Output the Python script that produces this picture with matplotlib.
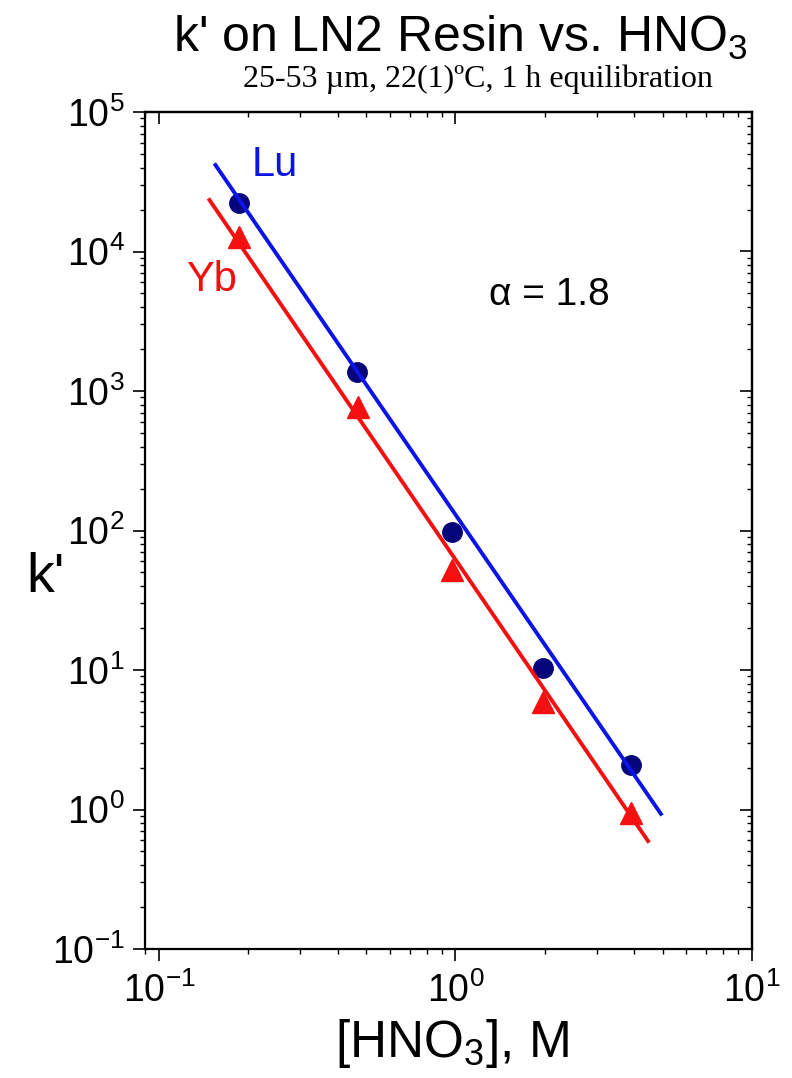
import numpy as np
import matplotlib
matplotlib.use("Agg")
import matplotlib.pyplot as plt
from matplotlib.ticker import LogLocator, NullFormatter

plt.rcParams['font.family'] = ['Liberation Sans', 'DejaVu Sans']
plt.rcParams['mathtext.fontset'] = 'custom'
plt.rcParams['mathtext.rm'] = 'Liberation Sans'
plt.rcParams['mathtext.it'] = 'Liberation Sans:italic'

# ---- data ----
hno3_lu = [0.186, 0.466, 0.97, 1.97, 3.91]
k_lu = [22300, 1370, 97.5, 10.3, 2.08]
hno3_yb = [0.186, 0.468, 0.975, 1.98, 3.91]
k_yb = [12700, 768, 52, 5.9, 0.94]

fit_lu_x = [0.155, 4.93]
fit_lu_y = [41700, 0.93]
fit_yb_x = [0.148, 4.46]
fit_yb_y = [23400, 0.594]

xlim = (0.0897, 10)
ylim = (0.1, 1e5)

W, H = 792, 1078
fig = plt.figure(figsize=(W / 100, H / 100), dpi=100)
L, R, T, B = 145, 752, 112, 949
ax = fig.add_axes([L / W, (H - B) / H, (R - L) / W, (B - T) / H])

blue = '#0a14e6'
navy = '#06067a'
red = '#f41010'

ax.plot(fit_lu_x, fit_lu_y, color=blue, lw=2.8, zorder=3)
ax.plot(fit_yb_x, fit_yb_y, color=red, lw=2.8, zorder=3)
ax.plot(hno3_lu, k_lu, 'o', color=navy, ms=14, mec=navy, zorder=2)
ax.plot(hno3_yb, k_yb, '^', color=red, ms=16, mec=red, zorder=2)

ax.set_xscale('log')
ax.set_yscale('log')
ax.set_xlim(*xlim)
ax.set_ylim(*ylim)


def setup_log(axis):
    axis.set_major_locator(LogLocator(base=10, numticks=10))
    axis.set_minor_locator(LogLocator(base=10, subs=np.arange(2, 10), numticks=20))
    axis.set_minor_formatter(NullFormatter())


setup_log(ax.xaxis)
setup_log(ax.yaxis)

ax.tick_params(which='major', direction='out', length=8.5, width=1.2, labelsize=27, pad=6)
ax.tick_params(which='minor', direction='out', length=3.5, width=1.0)
ax.tick_params(axis='x', which='major', pad=8)
for s in ax.spines.values():
    s.set_linewidth(1.6)

# inward ticks on top and right
sx = ax.secondary_xaxis('top')
setup_log(sx.xaxis)
sx.xaxis.set_major_formatter(NullFormatter())
sx.tick_params(which='major', direction='in', length=8.5, width=1.2)
sx.tick_params(which='minor', direction='in', length=3.5, width=1.0)
sx.spines['top'].set_linewidth(1.6)

sy = ax.secondary_yaxis('right')
setup_log(sy.yaxis)
sy.yaxis.set_major_formatter(NullFormatter())
sy.tick_params(which='major', direction='in', length=8.5, width=1.2)
sy.tick_params(which='minor', direction='in', length=3.5, width=1.0)
sy.spines['right'].set_linewidth(1.6)

fig.text(452 / W, 1 - 1043 / H, r'[HNO$_3$], M', fontsize=37, ha='center', va='center')
fig.text(45 / W, 1 - 578 / H, "k'", fontsize=40, ha='center', va='center')

ax.text(0.214, 0.937, 'Lu', color=blue, fontsize=30, ha='center', va='center', transform=ax.transAxes)
ax.text(0.110, 0.799, 'Yb', color=red, fontsize=30, ha='center', va='center', transform=ax.transAxes)
ax.text(0.666, 0.781, '\u03b1 = 1.8', fontsize=28, ha='center', va='center', transform=ax.transAxes)

fig.text(460 / W, 1 - 38 / H, r"k' on LN2 Resin vs. HNO$_3$", fontsize=36, ha='center', va='center')
fig.text(478 / W, 1 - 79 / H, "25-53 \u00b5m, 22(1)\u00baC, 1 h equilibration",
         fontsize=23, ha='center', va='center', family='Liberation Serif')

fig.savefig('out.png', dpi=100)
